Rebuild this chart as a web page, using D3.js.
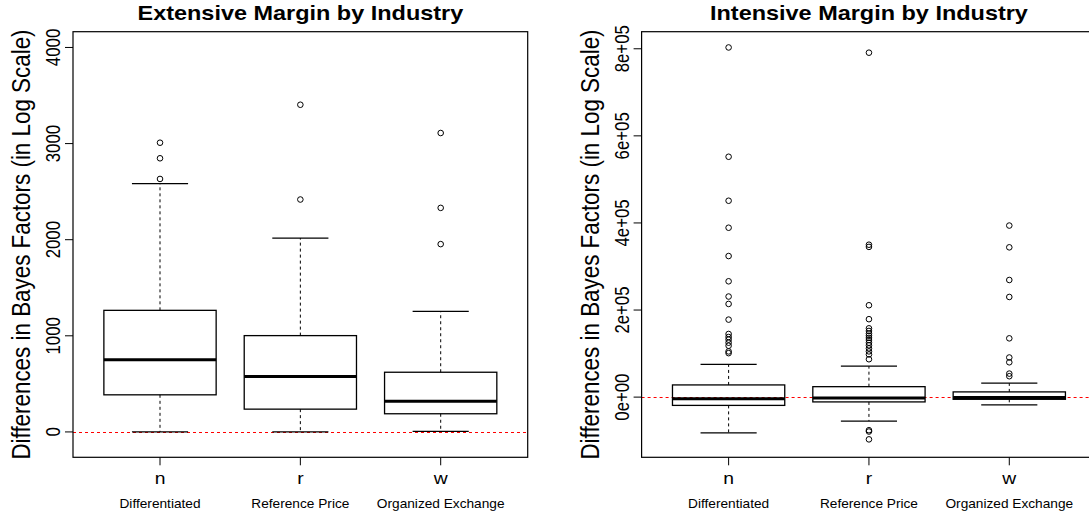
<!DOCTYPE html>
<html>
<head>
<meta charset="utf-8">
<script src="https://cdn.jsdelivr.net/npm/d3@7"></script>
<style>
  body { margin: 0; background: #fff; }
  svg text { font-family: "Liberation Sans", Arial, Helvetica, sans-serif; fill: #000; }
</style>
</head>
<body>
<div id="chart"></div>
<script>
// data
const categories = ["n", "r", "w"]
const groupNames = ["Differentiated", "Reference Price", "Organized Exchange"]

// extensive margin
const extLow = [0, 0, 5]
const extQ1 = [386, 237, 189]
const extMedian = [750, 576, 320]
const extQ3 = [1265, 1002, 621]
const extHigh = [2584, 2017, 1254]
const extOutliers = [[3009, 2847, 2632], [3404, 2418], [3110, 2331, 1954]]
const extTicks = [0, 1000, 2000, 3000, 4000]
const extTickLabels = ["0", "1000", "2000", "3000", "4000"]

// intensive margin
const intLow = [-82000, -55000, -18000]
const intQ1 = [-19000, -11000, -5000]
const intMedian = [-4000, -2000, -1000]
const intQ3 = [28000, 24000, 12000]
const intHigh = [75000, 71000, 32000]
const intOutliers = [
    [803000, 552000, 451000, 389000, 324000, 266000, 231000, 214000, 178000, 145000, 138000, 132000, 125000, 118000, 105000, 101000],
    [791000, 350000, 345000, 211000, 179000, 158000, 152000, 146000, 141000, 136000, 131000, 125000, 119000, 112000, 105000, 98000, 87000, -76000, -79000, -97000],
    [394000, 344000, 269000, 230000, 135000, 91000, 80000, 54000, 48000]
]
const intTicks = [0, 200000, 400000, 600000, 800000]
const intTickLabels = ["0e+00", "2e+05", "4e+05", "6e+05", "8e+05"]

const W = 1089
const H = 518
const plotTop = 31.7
const plotBottom = 457.3
const plotW = 454.7
const stretch = 1.15   // the picture's text is a bit wider than tall
const font = 16.8

const svg = d3.select('#chart')
    .append('svg')
    .attr('width', W)
    .attr('height', H)

const drawPanel = (p) => {
    const xScale = d3.scaleLinear()
        .domain([0.38, 3.62])
        .range([p.left, p.left + plotW])
    const yScale = d3.scaleLinear()
        .domain(p.yDomain)
        .range([plotBottom, plotTop])
    const step = xScale(2) - xScale(1)
    const boxW = step * 0.8
    const g = svg.append('g')

    // zero line
    g.append('line')
        .attr('x1', p.left).attr('x2', p.left + plotW)
        .attr('y1', Math.round(yScale(0)) + 0.5).attr('y2', Math.round(yScale(0)) + 0.5)
        .attr('stroke', '#ff0000')
        .attr('stroke-width', 1)
        .attr('stroke-dasharray', '3,3')

    categories.forEach((c, i) => {
        const cx = xScale(i + 1)
        // whiskers
        g.append('line')
            .attr('x1', cx).attr('x2', cx)
            .attr('y1', yScale(p.q3[i])).attr('y2', yScale(p.high[i]))
            .attr('stroke', '#000').attr('stroke-dasharray', '3,3')
        g.append('line')
            .attr('x1', cx).attr('x2', cx)
            .attr('y1', yScale(p.q1[i])).attr('y2', yScale(p.low[i]))
            .attr('stroke', '#000').attr('stroke-dasharray', '3,3')
        // staples
        ;[p.high[i], p.low[i]].forEach(v => {
            g.append('line')
                .attr('x1', cx - boxW / 4).attr('x2', cx + boxW / 4)
                .attr('y1', yScale(v)).attr('y2', yScale(v))
                .attr('stroke', '#000').attr('stroke-width', 1.2)
        })
        // box
        g.append('rect')
            .attr('x', cx - boxW / 2)
            .attr('y', yScale(p.q3[i]))
            .attr('width', boxW)
            .attr('height', yScale(p.q1[i]) - yScale(p.q3[i]))
            .attr('fill', 'none')
            .attr('stroke', '#000')
            .attr('stroke-width', 1.3)
        g.append('line')
            .attr('x1', cx - boxW / 2).attr('x2', cx + boxW / 2)
            .attr('y1', yScale(p.median[i])).attr('y2', yScale(p.median[i]))
            .attr('stroke', '#000').attr('stroke-width', 3)
        // outliers
        g.selectAll(null)
            .data(p.outliers[i])
            .enter()
            .append('circle')
            .attr('cx', cx)
            .attr('cy', d => yScale(d))
            .attr('r', 2.8)
            .attr('fill', 'none')
            .attr('stroke', '#000')
            .attr('stroke-width', 1)

        // x tick and labels
        g.append('line')
            .attr('x1', cx).attr('x2', cx)
            .attr('y1', plotBottom).attr('y2', plotBottom + 8)
            .attr('stroke', '#000')
        g.append('text')
            .attr('transform', 'translate(' + cx + ',483.5) scale(' + stretch + ',1)')
            .attr('text-anchor', 'middle')
            .style('font-size', font + 'px')
            .text(c)
        g.append('text')
            .attr('transform', 'translate(' + cx + ',507.5) scale(' + stretch + ',1)')
            .attr('text-anchor', 'middle')
            .style('font-size', '11.9px')
            .text(groupNames[i])
    })

    // frame
    g.append('rect')
        .attr('x', p.left)
        .attr('y', plotTop)
        .attr('width', plotW)
        .attr('height', plotBottom - plotTop)
        .attr('fill', 'none')
        .attr('stroke', '#000')
        .attr('stroke-width', 1.2)

    // y ticks
    p.ticks.forEach((t, i) => {
        g.append('line')
            .attr('x1', p.left - 8).attr('x2', p.left)
            .attr('y1', yScale(t)).attr('y2', yScale(t))
            .attr('stroke', '#000')
        g.append('text')
            .attr('transform', 'translate(' + (p.left - 13) + ',' + yScale(t) + ') scale(' + stretch + ',1) rotate(-90)')
            .attr('text-anchor', 'middle')
            .style('font-size', font + 'px')
            .text(p.tickLabels[i])
    })

    // y label
    g.append('text')
        .attr('transform', 'translate(' + (p.left - 42.7) + ',' + ((plotTop + plotBottom) / 2) + ') scale(' + stretch + ',1) rotate(-90)')
        .attr('text-anchor', 'middle')
        .style('font-size', '22.4px')
        .text('Differences in Bayes Factors (in Log Scale)')

    // title
    g.append('text')
        .attr('transform', 'translate(' + xScale(2) + ',20) scale(' + stretch + ',1)')
        .attr('text-anchor', 'middle')
        .style('font-size', '20.4px')
        .style('font-weight', 'bold')
        .text(p.title)
}

drawPanel({
    left: 73,
    yDomain: [-264, 4164],
    low: extLow, q1: extQ1, median: extMedian, q3: extQ3, high: extHigh,
    outliers: extOutliers,
    ticks: extTicks, tickLabels: extTickLabels,
    title: 'Extensive Margin by Industry'
})

drawPanel({
    left: 641.6,
    yDomain: [-138200, 839200],
    low: intLow, q1: intQ1, median: intMedian, q3: intQ3, high: intHigh,
    outliers: intOutliers,
    ticks: intTicks, tickLabels: intTickLabels,
    title: 'Intensive Margin by Industry'
})
</script>
</body>
</html>
